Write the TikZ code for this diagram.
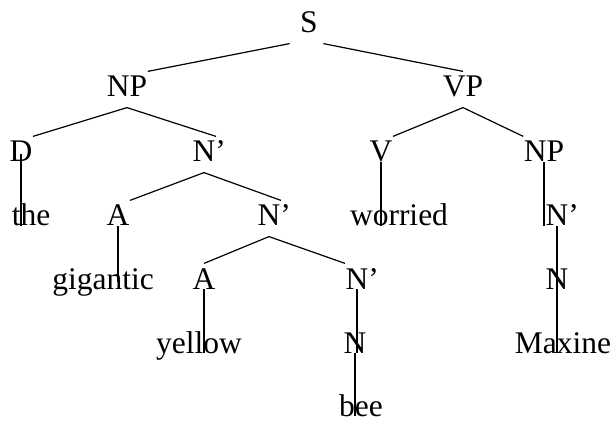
\documentclass[tikz,border=0pt]{standalone}
\usepackage{fontspec}
\setmainfont{Liberation Serif}
\begin{document}
\begin{tikzpicture}[x=0.5pt, y=-0.5pt, line width=0.6pt,
  font=\fontsize{15.75}{18}\selectfont]
\tikzstyle{cat} = [anchor=base, inner sep=0pt, text height=12.5pt, text depth=5pt]
\useasboundingbox (0,0) rectangle (615,422);

\node (S)    [cat] at (309, 33) {S};
\node (NPa)  [cat] at (127, 97) {NP};
\node (VP)   [cat] at (463, 97) {VP};
\node (D)    [cat] at (21, 162) {D};
\node (Nb1)  [cat] at (204, 162) {N\rlap{’}};
\node (V)    [cat] at (381, 162) {V};
\node (NPc)  [cat] at (544, 162) {NP};
\node (the)  [cat] at (31, 226) {the};
\node (A1)   [cat] at (118, 226) {A};
\node (Nb2)  [cat] at (269, 226) {N\rlap{’}};
\node (worried) [cat] at (399, 226) {worried};
\node (Nb3)  [cat] at (557, 226) {N\rlap{’}};
\node (gigantic) [cat] at (103, 289) {gigantic};
\node (A2)   [cat] at (204, 289) {A};
\node (Nb4)  [cat] at (357, 289) {N\rlap{’}};
\node (N1)   [cat] at (557, 289) {N};
\node (yellow) [cat] at (199, 353) {yellow};
\node (N2)   [cat] at (355, 353) {N};
\node (Maxine) [cat] at (563, 353) {Maxine};
\node (bee)  [cat] at (361, 416) {bee};

\path ([xshift=-5pt]S.south west) edge (NPa.north east)
      ([xshift=2.5pt]S.south east) edge (VP.north)
      (NPa.south) edge (D.north east)
      (NPa.south) edge (Nb1.north east)
      (VP.south) edge (V.north east)
      (VP.south) edge (NPc.north west)
      (Nb1.south) edge (A1.north east)
      (Nb1.south) edge (Nb2.north east)
      (Nb2.south) edge (A2.north)
      (Nb2.south) edge (Nb4.north west);

\path (D.center) edge (D.center |- the.base)
      (V.base) edge (V.base |- worried.base)
      (NPc.base) edge (NPc.base |- Nb3.base)
      (A1.base) edge (A1.base |- gigantic.center)
      (Nb3.base) edge (N1.base)
      (N1.base) edge (N1.base |- Maxine.base)
      (A2.base) edge (A2.base |- yellow.base)
      (Nb4.base) edge (Nb4.base |- N2.base)
      (N2.base) edge (N2.base |- bee.base);
\end{tikzpicture}
\end{document}
